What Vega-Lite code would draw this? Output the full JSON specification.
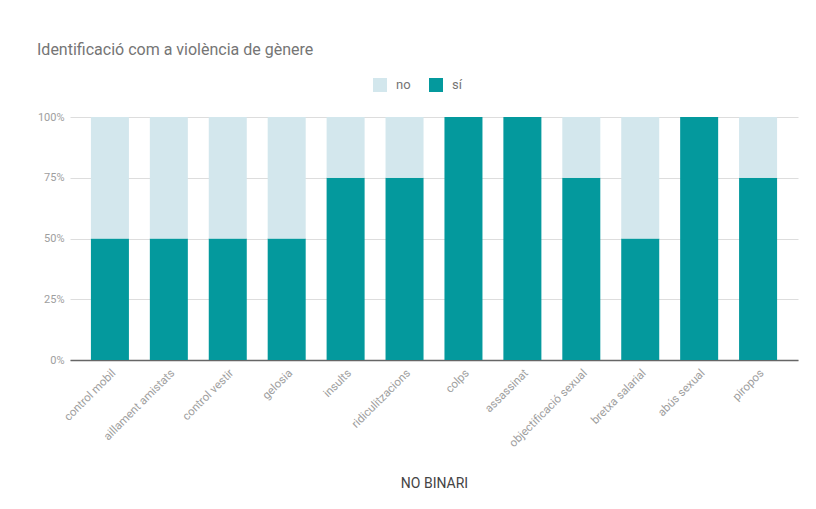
{
  "$schema": "https://vega.github.io/schema/vega-lite/v6.json",
  "autosize": {"type": "none"},
  "width": 728,
  "height": 243,
  "padding": {"left": 70, "top": 117, "right": 18, "bottom": 149},
  "background": "white",
  "title": {
    "text": "Identificació com a violència de gènere",
    "anchor": "start",
    "frame": "group",
    "dx": -33,
    "offset": 20,
    "font": "Roboto",
    "fontSize": 16,
    "fontWeight": "normal",
    "color": "#757575"
  },
  "data": {
    "values": [
      {"item": "control mobil", "resp": "sí", "n": 2},
      {"item": "control mobil", "resp": "no", "n": 2},
      {"item": "aillament amistats", "resp": "sí", "n": 2},
      {"item": "aillament amistats", "resp": "no", "n": 2},
      {"item": "control vestir", "resp": "sí", "n": 2},
      {"item": "control vestir", "resp": "no", "n": 2},
      {"item": "gelosia", "resp": "sí", "n": 2},
      {"item": "gelosia", "resp": "no", "n": 2},
      {"item": "insults", "resp": "sí", "n": 3},
      {"item": "insults", "resp": "no", "n": 1},
      {"item": "ridiculitzacions", "resp": "sí", "n": 3},
      {"item": "ridiculitzacions", "resp": "no", "n": 1},
      {"item": "colps", "resp": "sí", "n": 4},
      {"item": "colps", "resp": "no", "n": 0},
      {"item": "assassinat", "resp": "sí", "n": 4},
      {"item": "assassinat", "resp": "no", "n": 0},
      {"item": "objectificació sexual", "resp": "sí", "n": 3},
      {"item": "objectificació sexual", "resp": "no", "n": 1},
      {"item": "bretxa salarial", "resp": "sí", "n": 2},
      {"item": "bretxa salarial", "resp": "no", "n": 2},
      {"item": "abús sexual", "resp": "sí", "n": 4},
      {"item": "abús sexual", "resp": "no", "n": 0},
      {"item": "piropos", "resp": "sí", "n": 3},
      {"item": "piropos", "resp": "no", "n": 1}
    ]
  },
  "mark": {"type": "bar"},
  "encoding": {
    "x": {
      "field": "item",
      "type": "nominal",
      "sort": null,
      "scale": {"paddingInner": 0.355, "paddingOuter": 0.355},
      "axis": {
        "title": "NO BINARI",
        "labelAngle": -45,
        "labelColor": "#9e9e9e",
        "labelFontSize": 11.5,
        "labelFont": "Roboto",
        "labelPadding": 7,
        "ticks": false,
        "domainColor": "#666666",
        "domainWidth": 1.5,
        "titleFont": "Roboto",
        "titleFontSize": 14,
        "titleFontWeight": "normal",
        "titleColor": "#444444",
        "titlePadding": 28
      }
    },
    "y": {
      "field": "n",
      "type": "quantitative",
      "stack": "normalize",
      "scale": {"domain": [0, 1]},
      "axis": {
        "title": null,
        "format": ".0%",
        "values": [0, 0.25, 0.5, 0.75, 1],
        "domain": false,
        "ticks": false,
        "labelColor": "#9e9e9e",
        "labelFontSize": 11,
        "labelFont": "Roboto",
        "labelPadding": 6,
        "gridColor": "#dddddd"
      }
    },
    "color": {
      "field": "resp",
      "type": "nominal",
      "scale": {"domain": ["no", "sí"], "range": ["#d3e7ed", "#04999d"]},
      "legend": {
        "title": null,
        "orient": "none",
        "direction": "horizontal",
        "legendX": 303,
        "legendY": -39,
        "symbolType": "square",
        "symbolSize": 196,
        "symbolStrokeWidth": 0,
        "labelFont": "Roboto",
        "labelFontSize": 13,
        "labelColor": "#757575",
        "labelOffset": 9,
        "columnPadding": 18
      }
    },
    "order": {"field": "resp", "sort": "descending"}
  },
  "config": {
    "view": {"stroke": null},
    "font": "Roboto"
  }
}
